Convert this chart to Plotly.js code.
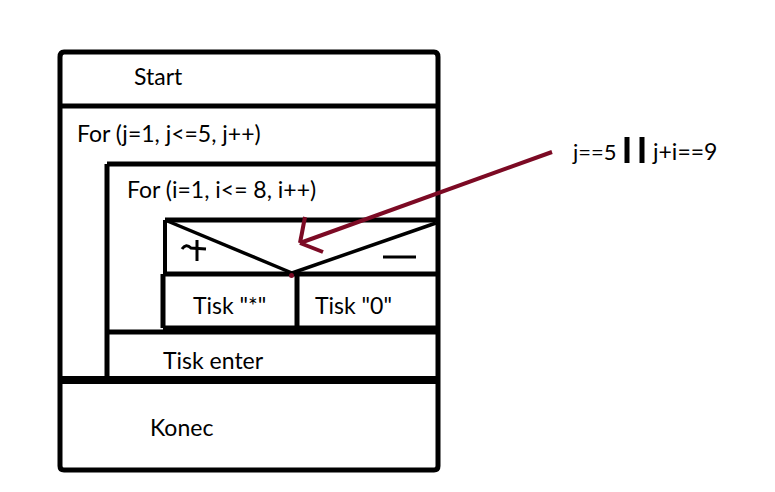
<!DOCTYPE html>
<html>
<head>
<meta charset="utf-8">
<script src="https://cdn.plot.ly/plotly-3.0.1.min.js"></script>
<style>
  html, body { margin: 0; padding: 0; background: #fff; }
  #chart { width: 775px; height: 492px; }
</style>
</head>
<body>
<div id="chart"></div>
<script>
// Block labels of the structogram, top to bottom
var blockLabels = ['Start', 'For (j=1, j<=5, j++)', 'For (i=1, i<= 8, i++)', 'Tisk enter', 'Konec'];
var branchLabels = ['Tisk "*"', 'Tisk "0"'];
var conditionParts = ['j==5', 'j+i==9'];

var black = '#000000';
var wine = '#7c0a24';

function seg(x0, y0, x1, y1, w, c) {
  return {
    type: 'line', xref: 'x', yref: 'y',
    x0: x0, y0: y0, x1: x1, y1: y1,
    line: { color: c || black, width: w || 5 }
  };
}

function label(txt, x, y, size) {
  return {
    text: txt, x: x, y: y, xref: 'x', yref: 'y',
    xanchor: 'left', yanchor: 'middle', showarrow: false,
    borderpad: 0,
    font: { family: 'Lato, "Open Sans", sans-serif', size: size || 23, color: black }
  };
}

var shapes = [
  // outer box
  { type: 'path', xref: 'x', yref: 'y',
    path: 'M 64 52 L 434 52 Q 438 52 438 57 L 438 466 Q 438 470 434 470 L 64 470 Q 60 470 60 466 L 60 57 Q 60 52 64 52 Z',
    line: { color: black, width: 5 } },
  seg(60, 106, 438, 106, 5),
  // inner for-loop frame
  seg(107, 164, 436, 164, 5),
  seg(107, 164, 107, 380, 5),
  // condition block
  seg(165, 220, 436, 220, 5),
  seg(165, 220, 292, 273, 3.5),
  seg(292, 273, 436, 223, 3.5),
  seg(165, 220, 165, 273, 4),
  seg(163, 274, 436, 274, 5),
  seg(163, 274, 163, 328, 5),
  seg(297, 274, 297, 328, 5),
  seg(163, 328, 436, 328, 5),
  seg(107, 332, 438, 332, 5),
  // end of outer loop
  seg(60, 380, 438, 380, 8),
  // "||" of the condition
  seg(627, 137, 627, 163, 5),
  seg(642, 137, 642, 163, 5),
  // arrow
  seg(552, 152, 300, 243, 4, wine),
  seg(300, 243, 305, 217, 4, wine),
  seg(300, 243, 323, 252, 4, wine),
  { type: 'circle', xref: 'x', yref: 'y', x0: 289, y0: 273, x1: 294, y1: 278,
    fillcolor: wine, line: { width: 0 } },
  // hand-drawn "+" and "-"
  { type: 'path', xref: 'x', yref: 'y',
    path: 'M 182 249 Q 186 243 191 248 L 206 249',
    line: { color: black, width: 3 } },
  seg(197, 240, 197, 261, 3),
  seg(383, 257, 416, 257, 3)
];

var annotations = [
  label(blockLabels[0], 133, 76),
  label(blockLabels[1], 76, 133),
  label(blockLabels[2], 126, 189),
  label(blockLabels[3], 162, 360),
  label(blockLabels[4], 149, 427),
  label(branchLabels[0], 192, 305),
  label(branchLabels[1], 314, 305),
  label(conditionParts[0], 571, 151, 22),
  label(conditionParts[1], 651, 151)
];

Plotly.newPlot('chart', [{
  x: [0, 775], y: [0, 492], mode: 'markers',
  marker: { opacity: 0 }, hoverinfo: 'skip', showlegend: false
}], {
  width: 775, height: 492,
  margin: { l: 0, r: 0, t: 0, b: 0 },
  paper_bgcolor: '#ffffff', plot_bgcolor: '#ffffff',
  xaxis: { range: [0, 775], visible: false, fixedrange: true },
  yaxis: { range: [492, 0], visible: false, fixedrange: true },
  shapes: shapes,
  annotations: annotations,
  showlegend: false
}, { staticPlot: true });
</script>
</body>
</html>
